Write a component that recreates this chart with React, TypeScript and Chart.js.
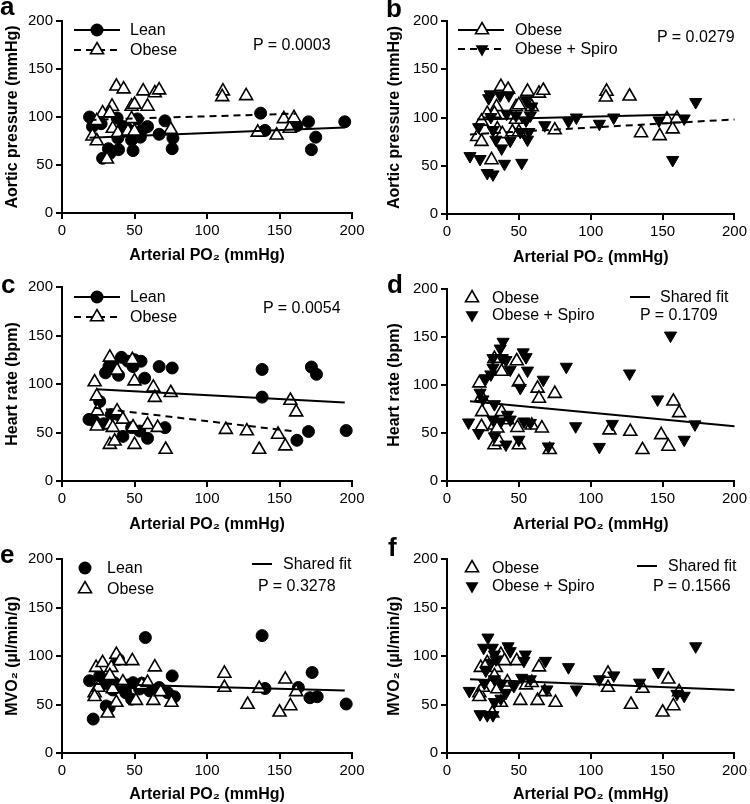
import React, { useEffect, useRef } from "react";
import { Chart, registerables } from "chart.js";

Chart.register(...registerables);

const FONT = "'Liberation Sans', Arial, Helvetica, sans-serif";
Chart.defaults.font.family = FONT;
Chart.defaults.color = "#000";

type Pt = [number, number];
type Kind = "circle" | "tri" | "invtri";

// ---------- axis ticks ----------
const X_TICKS = [0, 50, 100, 150, 200];
const Y_TICKS = [0, 50, 100, 150, 200];

// ---------- data: Aortic pressure (mmHg) vs arterial PO2 ----------
const leanAP: Pt[] = [
  [19, 100], [21, 90], [27, 93], [28, 57], [32, 67], [33, 62], [38, 99], [38.5, 78],
  [39, 66], [42, 90], [45, 88], [48, 76], [49, 65], [52, 98], [54, 79], [55, 86],
  [59, 90], [67, 82], [71, 96], [76, 67], [76.5, 78], [137, 104], [140, 86], [162, 91],
  [170, 95], [172, 66], [175, 79], [195, 95],
];
const obeseAP: Pt[] = [
  [37.5, 132], [42.5, 129], [56, 127], [64, 125], [67, 128], [34.5, 111], [48, 111], [50, 113],
  [59, 111], [28, 104], [33, 104], [48, 98], [21, 80], [24, 75], [24, 96], [35, 88],
  [38.5, 83], [45.5, 85], [50, 85], [31, 56], [75, 87], [111, 127], [110.5, 121], [127, 122],
  [135, 84], [148, 81], [153, 98], [157, 88], [160, 99],
];
const spiroAP: Pt[] = [
  [16, 60], [23, 57], [28, 42.5], [32, 41], [40, 52], [52, 53], [29, 120], [30, 124],
  [37, 123], [43, 123], [55, 118], [59, 111.5], [41.5, 104], [48, 102], [58, 102], [22, 90],
  [30.5, 100.5], [32, 87], [34, 77], [38, 68], [44, 76], [51, 85], [56, 77], [57, 85],
  [55, 97], [68, 92], [84.5, 96], [90, 100], [106, 93.5], [116, 100], [147.5, 97], [157, 56],
  [165, 99], [173, 116],
];
const fitAP_lean: Pt[] = [[19, 78.5], [195, 89]];
const fitAP_obese: Pt[] = [[19, 97], [161, 103.5]];
const fitAP_obeseB: Pt[] = [[21, 98], [161, 103]];
const fitAP_spiro: Pt[] = [[16, 82.5], [200, 98]];

// ---------- data: Heart rate (bpm) ----------
const leanHR: Pt[] = [
  [18.6, 63.5], [22, 62], [26, 82], [28.7, 59], [30, 111.5], [32.4, 118], [35, 120], [34, 68.5],
  [38.6, 68.5], [39, 109], [41, 127.5], [42, 46], [45.5, 123.5], [48, 55], [49, 118], [50, 125],
  [53.6, 51.5], [54.5, 123.5], [57, 106], [59, 44], [67, 118], [71, 55], [76, 116.5], [138, 115],
  [138, 86.5], [162, 42], [170, 51], [172, 117.5], [175.5, 110], [196, 52],
];
const obeseHR: Pt[] = [
  [33, 127.5], [38, 114], [48.5, 125], [22.5, 102], [24, 87.5], [24.4, 72], [24, 56.5], [33, 58],
  [38, 72], [35, 55], [33, 37.5], [36.3, 41], [42, 63.5], [50, 103], [50, 37.5], [49, 55.5],
  [59, 58], [63, 96.5], [64, 86], [66, 55], [71.5, 32.5], [75, 91], [113, 53], [127.5, 51.5],
  [136, 32.5], [149, 48], [154, 36], [157.5, 83], [161.5, 71],
];
const spiroHR: Pt[] = [
  [15, 61], [22, 50], [23, 92], [25, 85], [27, 107], [30.5, 111], [32, 118], [32, 128],
  [37, 138], [39, 145], [38.5, 128], [41, 126], [44, 116], [53, 134], [55, 129], [56, 115],
  [51, 97], [67, 105.5], [83, 119], [89.5, 57], [106, 35.5], [127, 112], [146.5, 85], [155.5, 151.5],
  [165, 43], [172.5, 59], [70.5, 36], [33, 46.5], [41, 38], [50, 43], [32, 64], [37.5, 62],
  [44, 64], [53.5, 62], [58, 60.5], [42, 69], [33, 80], [115, 59.5],
];
const fitHR_lean: Pt[] = [[23.5, 94.5], [195, 81]];
const fitHR_obese: Pt[] = [[22, 75.5], [161, 51]];
const fitHR_shared: Pt[] = [[16, 83], [200, 57]];

// ---------- data: MVO2 (µl/min/g) ----------
const leanMVO: Pt[] = [
  [19, 74.5], [21.5, 35], [26, 79.5], [28.5, 71], [30.5, 48.5], [32.5, 47], [35, 65], [36, 72.5],
  [39, 96.5], [41, 69], [44, 62], [45, 70], [48, 55.5], [49, 72.5], [53.5, 66], [55, 72],
  [57.5, 119], [60.5, 64], [67, 67.5], [73, 62], [76, 79.5], [77.5, 58], [138, 121], [140, 66.5],
  [163, 67.5], [171, 57], [172.5, 83], [176, 58], [196, 50.5],
];
const obeseMVO: Pt[] = [
  [23.5, 88], [28, 93], [34, 88], [37.5, 101.5], [40, 95], [48.5, 95], [64, 88.5], [22.5, 62],
  [25, 67.5], [33, 79.5], [35, 66], [37.5, 52], [31.5, 41], [22.5, 58], [42, 73], [51, 54],
  [55, 70], [59, 72.5], [63, 54], [68, 63], [75.5, 52], [112, 82], [112, 67.5], [128, 50],
  [136, 66.5], [150, 42], [154, 76], [157.5, 48.5], [161.5, 63],
];
const spiroMVO: Pt[] = [
  [15.5, 64], [23, 40], [28, 39], [32, 39], [28.5, 119], [25.5, 108.5], [31.5, 108.5], [33, 101.5],
  [42.5, 110], [44, 105], [54.5, 101.5], [53.5, 95], [68.5, 95], [84.5, 88.5], [90, 65.5], [106, 76],
  [116, 80], [134, 72.5], [147, 83.5], [165, 59], [173, 110], [160, 61], [27, 85], [30.5, 93],
  [34, 96.5], [26, 72], [33, 76], [37.5, 70.5], [41, 62], [46.5, 69], [52, 77.5], [58, 76],
  [69.5, 65.5], [37.5, 56], [33, 52.5],
];
const fitMVO_sharedE: Pt[] = [[19, 71.5], [195, 64.5]];
const fitMVO_sharedF: Pt[] = [[16, 76], [200, 65]];

// ---------- text ----------
const X_TITLE = "Arterial PO\u2082 (mmHg)";
const P_VALUES = ["P = 0.0003", "P = 0.0279", "P = 0.0054", "P = 0.1709", "P = 0.3278", "P = 0.1566"];

interface Series { label: string; kind: Kind; data: Pt[] }
interface Fit { data: Pt[]; dashed: boolean }
interface LegendItem { label: string; kind: Kind; line?: "solid" | "dash"; y: number }
interface Panel {
  letter: string; left: number; top: number; yTitle: string;
  series: Series[]; fits: Fit[];
  axisW: number; axisH: number; padR: number; padT: number; yTitlePad: number; xTitlePad: number;
  lineX: [number, number]; markerX: number; textX: number; legend: LegendItem[];
  shared?: { x1: number; x2: number; y: number; textX: number };
  pText: string; pX: number; pY: number;
  letterX: number; letterY: number;
}

const PANELS: Panel[] = [
  {
    letter: "a", left: 0, top: 0, yTitle: "Aortic pressure (mmHg)",
    series: [{ label: "Lean", kind: "circle", data: leanAP }, { label: "Obese", kind: "tri", data: obeseAP }],
    fits: [{ data: fitAP_lean, dashed: false }, { data: fitAP_obese, dashed: true }],
    axisW: 62, axisH: 55, padR: 23, padT: 21, yTitlePad: 3, xTitlePad: 3,
    lineX: [74, 120], markerX: 97, textX: 130,
    legend: [{ label: "Lean", kind: "circle", line: "solid", y: 30 }, { label: "Obese", kind: "tri", line: "dash", y: 50 }],
    pText: P_VALUES[0], pX: 253, pY: 45, letterX: 0, letterY: -7,
  },
  {
    letter: "b", left: 375, top: 0, yTitle: "Aortic pressure (mmHg)",
    series: [{ label: "Obese", kind: "tri", data: obeseAP }, { label: "Obese + Spiro", kind: "invtri", data: spiroAP }],
    fits: [{ data: fitAP_obeseB, dashed: false }, { data: fitAP_spiro, dashed: true }],
    axisW: 72, axisH: 54, padR: 12, padT: 21, yTitlePad: 10, xTitlePad: 1,
    lineX: [83, 129], markerX: 107, textX: 140,
    legend: [{ label: "Obese", kind: "tri", line: "solid", y: 30 }, { label: "Obese + Spiro", kind: "invtri", line: "dash", y: 49 }],
    pText: P_VALUES[1], pX: 282, pY: 37, letterX: 11, letterY: -5,
  },
  {
    letter: "c", left: 0, top: 268, yTitle: "Heart rate (bpm)",
    series: [{ label: "Lean", kind: "circle", data: leanHR }, { label: "Obese", kind: "tri", data: obeseHR }],
    fits: [{ data: fitHR_lean, dashed: false }, { data: fitHR_obese, dashed: true }],
    axisW: 62, axisH: 55, padR: 23, padT: 19, yTitlePad: 3, xTitlePad: 2,
    lineX: [74, 120], markerX: 97, textX: 130,
    legend: [{ label: "Lean", kind: "circle", line: "solid", y: 29 }, { label: "Obese", kind: "tri", line: "dash", y: 49 }],
    pText: P_VALUES[2], pX: 263, pY: 40, letterX: 1, letterY: 3,
  },
  {
    letter: "d", left: 375, top: 268, yTitle: "Heart rate (bpm)",
    series: [{ label: "Obese", kind: "tri", data: obeseHR }, { label: "Obese + Spiro", kind: "invtri", data: spiroHR }],
    fits: [{ data: fitHR_shared, dashed: false }],
    axisW: 72, axisH: 55, padR: 12, padT: 21, yTitlePad: 10, xTitlePad: 2,
    lineX: [0, 0], markerX: 97, textX: 117,
    legend: [{ label: "Obese", kind: "tri", y: 30 }, { label: "Obese + Spiro", kind: "invtri", y: 47 }],
    shared: { x1: 255, x2: 275, y: 29, textX: 285 },
    pText: P_VALUES[3], pX: 265, pY: 47, letterX: 12, letterY: 3,
  },
  {
    letter: "e", left: 0, top: 536, yTitle: "MVO\u2082 (\u00b5l/min/g)",
    series: [{ label: "Lean", kind: "circle", data: leanMVO }, { label: "Obese", kind: "tri", data: obeseMVO }],
    fits: [{ data: fitMVO_sharedE, dashed: false }],
    axisW: 62, axisH: 51, padR: 23, padT: 23, yTitlePad: 3, xTitlePad: 0,
    lineX: [0, 0], markerX: 85, textX: 107,
    legend: [{ label: "Lean", kind: "circle", y: 32 }, { label: "Obese", kind: "tri", y: 53 }],
    shared: { x1: 252, x2: 272, y: 28, textX: 283 },
    pText: P_VALUES[4], pX: 258, pY: 50, letterX: 0, letterY: 5,
  },
  {
    letter: "f", left: 375, top: 536, yTitle: "MVO\u2082 (\u00b5l/min/g)",
    series: [{ label: "Obese", kind: "tri", data: obeseMVO }, { label: "Obese + Spiro", kind: "invtri", data: spiroMVO }],
    fits: [{ data: fitMVO_sharedF, dashed: false }],
    axisW: 72, axisH: 51, padR: 12, padT: 23, yTitlePad: 10, xTitlePad: 0,
    lineX: [0, 0], markerX: 97, textX: 117,
    legend: [{ label: "Obese", kind: "tri", y: 32 }, { label: "Obese + Spiro", kind: "invtri", y: 50 }],
    shared: { x1: 262, x2: 282, y: 30, textX: 293 },
    pText: P_VALUES[5], pX: 278, pY: 50, letterX: 13, letterY: -2,
  },
];

const R_CIRCLE = 6;
const R_TRI = 7.5;
const R_INV = 7;

function markerDataset(s: Series) {
  const pts = s.data.map(([x, y]) => ({ x, y }));
  if (s.kind === "circle") {
    return { label: s.label, data: pts, pointStyle: "circle", pointRadius: R_CIRCLE, backgroundColor: "#000", borderColor: "#000", borderWidth: 1, showLine: false, clip: false };
  }
  if (s.kind === "tri") {
    return { label: s.label, data: pts, pointStyle: "triangle", pointRadius: R_TRI, backgroundColor: "#fff", borderColor: "#000", borderWidth: 1.6, showLine: false, clip: false };
  }
  return { label: s.label, data: pts, pointStyle: "triangle", pointRotation: 180, pointRadius: R_INV, backgroundColor: "#000", borderColor: "#000", borderWidth: 1, showLine: false, clip: false };
}

function drawMarker(ctx: CanvasRenderingContext2D, kind: Kind, x: number, y: number) {
  ctx.save();
  ctx.beginPath();
  ctx.setLineDash([]);
  if (kind === "circle") {
    ctx.arc(x, y, R_CIRCLE + 0.5, 0, Math.PI * 2);
    ctx.fillStyle = "#000";
    ctx.fill();
  } else if (kind === "tri") {
    const r = R_TRI, c = Math.cos(Math.PI / 6);
    ctx.moveTo(x, y - r);
    ctx.lineTo(x + r * c, y + r / 2);
    ctx.lineTo(x - r * c, y + r / 2);
    ctx.closePath();
    ctx.fillStyle = "#fff";
    ctx.fill();
    ctx.lineWidth = 1.6;
    ctx.strokeStyle = "#000";
    ctx.stroke();
  } else {
    const r = R_INV + 0.5, c = Math.cos(Math.PI / 6);
    ctx.moveTo(x, y + r);
    ctx.lineTo(x + r * c, y - r / 2);
    ctx.lineTo(x - r * c, y - r / 2);
    ctx.closePath();
    ctx.fillStyle = "#000";
    ctx.fill();
  }
  ctx.restore();
}

function legendPlugin(p: Panel) {
  return {
    id: "legendMarks" + p.letter,
    afterDraw(chart: any) {
      const ctx: CanvasRenderingContext2D = chart.ctx;
      p.legend.forEach((it) => {
        if (it.line) {
          ctx.save();
          ctx.strokeStyle = "#000";
          ctx.lineWidth = 2;
          ctx.setLineDash(it.line === "dash" ? [7, 5] : []);
          ctx.beginPath();
          ctx.moveTo(p.lineX[0], it.y);
          ctx.lineTo(p.lineX[1], it.y);
          ctx.stroke();
          ctx.restore();
        }
        drawMarker(ctx, it.kind, p.markerX, it.y);
      });
      if (p.shared) {
        ctx.save();
        ctx.strokeStyle = "#000";
        ctx.lineWidth = 2;
        ctx.beginPath();
        ctx.moveTo(p.shared.x1, p.shared.y);
        ctx.lineTo(p.shared.x2, p.shared.y);
        ctx.stroke();
        ctx.restore();
      }
    },
  };
}

function PanelView({ p }: { p: Panel }) {
  const ref = useRef<HTMLCanvasElement>(null);
  useEffect(() => {
    const canvas = ref.current;
    if (!canvas) return;
    const datasets: any[] = [];
    p.fits.forEach((f) =>
      datasets.push({
        data: f.data.map(([x, y]) => ({ x, y })),
        showLine: true,
        borderColor: "#000",
        borderWidth: 2,
        borderDash: f.dashed ? [7, 5] : [],
        pointRadius: 0,
        fill: false,
        clip: false,
      })
    );
    [...p.series].reverse().forEach((s) => datasets.push(markerDataset(s)));

    const tickFont = { size: 15, family: FONT };
    const titleFont = { size: 16, weight: "bold" as const, family: FONT };
    const chart = new Chart(canvas, {
      type: "scatter",
      data: { datasets },
      options: {
        animation: false,
        responsive: false,
        maintainAspectRatio: false,
        devicePixelRatio: 1,
        layout: { padding: { left: 0, right: p.padR, top: p.padT, bottom: 0 } },
        plugins: { legend: { display: false }, tooltip: { enabled: false } },
        scales: {
          x: {
            type: "linear",
            min: X_TICKS[0],
            max: X_TICKS[X_TICKS.length - 1],
            afterBuildTicks: (s: any) => { s.ticks = X_TICKS.map((v) => ({ value: v })); },
            afterFit: (s: any) => { s.height = p.axisH; },
            ticks: { font: tickFont, color: "#000", padding: 3, maxRotation: 0 },
            grid: { drawOnChartArea: false, drawTicks: true, tickLength: 6, color: "#000", lineWidth: 2 },
            border: { display: true, color: "#000", width: 2 },
            title: { display: true, text: X_TITLE, font: titleFont, color: "#000", padding: { top: 0, bottom: p.xTitlePad } },
          },
          y: {
            type: "linear",
            min: Y_TICKS[0],
            max: Y_TICKS[Y_TICKS.length - 1],
            afterBuildTicks: (s: any) => { s.ticks = Y_TICKS.map((v) => ({ value: v })); },
            afterFit: (s: any) => { s.width = p.axisW; },
            ticks: { font: tickFont, color: "#000", padding: 3 },
            grid: { drawOnChartArea: false, drawTicks: true, tickLength: 6, color: "#000", lineWidth: 2 },
            border: { display: true, color: "#000", width: 2 },
            title: { display: true, text: p.yTitle, font: titleFont, color: "#000", padding: { top: p.yTitlePad, bottom: 0 } },
          },
        },
      } as any,
      plugins: [legendPlugin(p)],
    });
    return () => chart.destroy();
  }, [p]);

  const textStyle: React.CSSProperties = {
    position: "absolute",
    fontFamily: FONT,
    fontSize: 16,
    lineHeight: "16px",
    whiteSpace: "nowrap",
    color: "#000",
    transform: "translateY(-50%)",
  };

  return (
    <div style={{ position: "absolute", left: p.left, top: p.top, width: 375, height: 268 }}>
      <canvas ref={ref} width={375} height={268} style={{ display: "block", width: 375, height: 268 }} />
      <div
        style={{
          position: "absolute", left: p.letterX, top: p.letterY, fontFamily: FONT, fontWeight: "bold",
          fontSize: 26, lineHeight: "26px", color: "#000",
        }}
      >
        {p.letter}
      </div>
      {p.legend.map((it) => (
        <div key={it.label} style={{ ...textStyle, left: p.textX, top: it.y }}>{it.label}</div>
      ))}
      {p.shared && <div style={{ ...textStyle, left: p.shared.textX, top: p.shared.y }}>Shared fit</div>}
      <div style={{ ...textStyle, left: p.pX, top: p.pY }}>{p.pText}</div>
    </div>
  );
}

export default function App() {
  return (
    <div style={{ position: "absolute", left: 0, top: 0, width: 750, height: 804, background: "#fff", overflow: "hidden" }}>
      {PANELS.map((p) => (
        <PanelView key={p.letter} p={p} />
      ))}
    </div>
  );
}
